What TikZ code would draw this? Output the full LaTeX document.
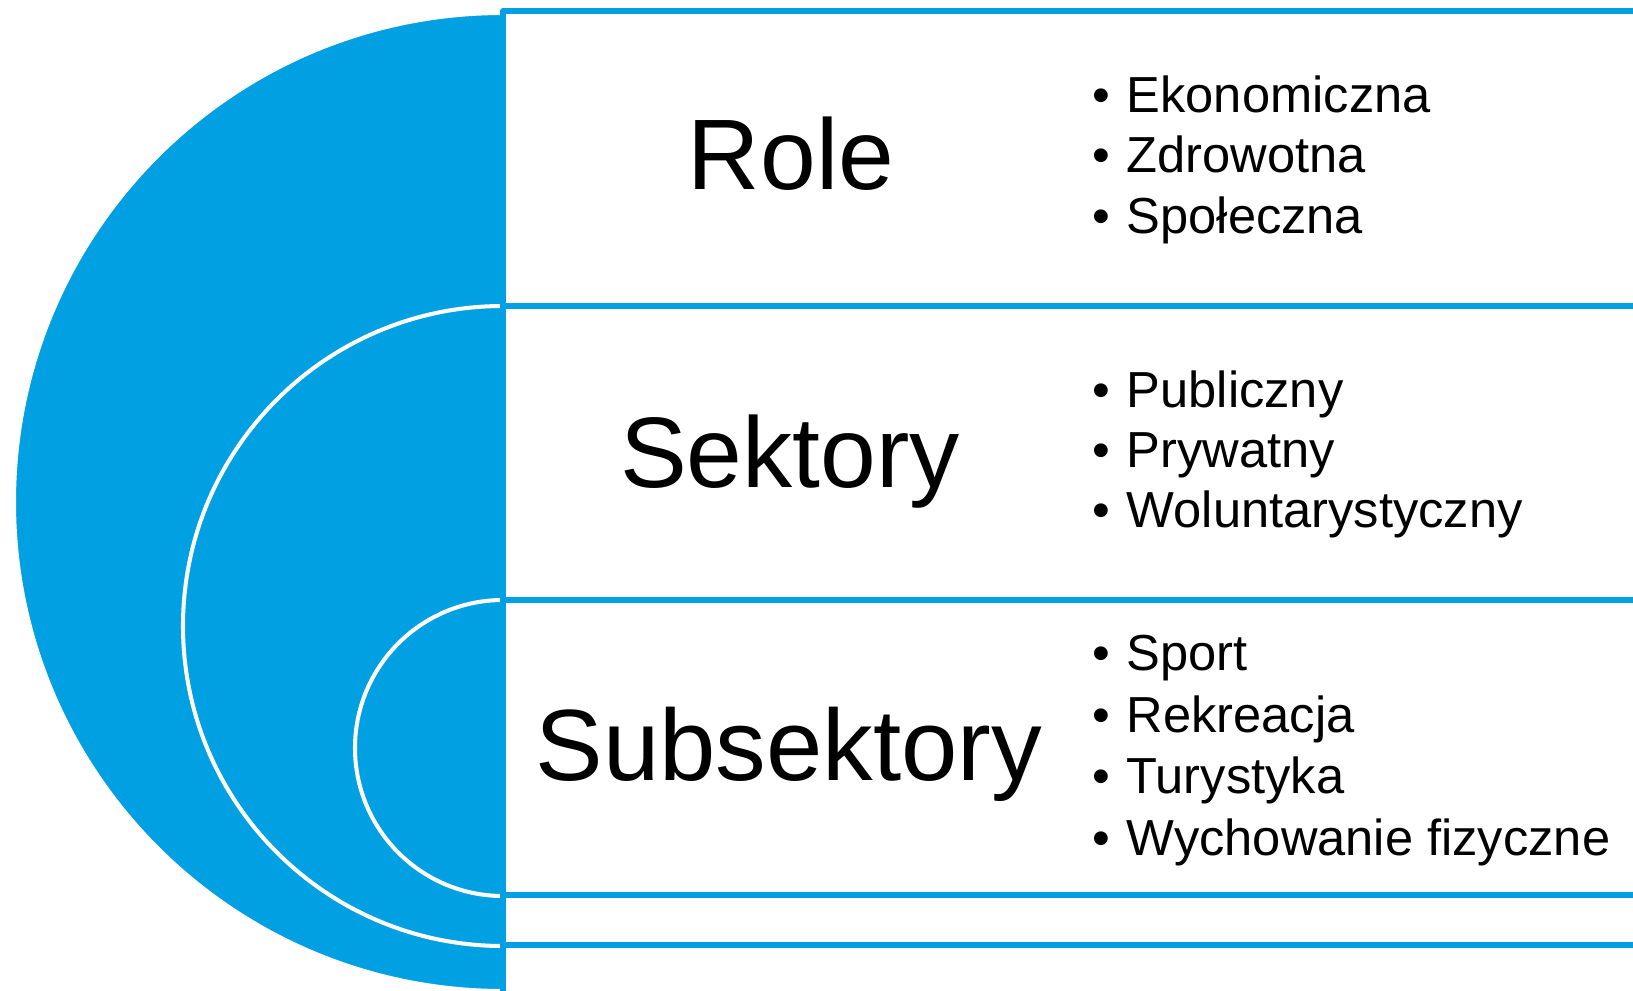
\documentclass[tikz,border=0pt]{standalone}
\usepackage{fontspec}
\setmainfont{Liberation Sans}
\definecolor{segblue}{RGB}{0,160,227}
\newcommand{\pkt}[1]{\makebox[0.34cm][l]{•}#1}

\begin{document}
\begin{tikzpicture}[
                x = 0.01cm, y = -0.01cm, % one unit per pixel
                title/.style = {font=\fontsize{28.5}{34}\selectfont, inner sep=0pt, anchor=base},
                item/.style = {font=\fontsize{14.4}{17}\selectfont, inner sep=0pt, anchor=base west},
                band/.style = {draw=segblue, line width=1.45pt, line join=round},
                ring/.style = {fill=segblue, draw=white, line width=1.15pt}
                ]
                \useasboundingbox (0,0) rectangle (1633,991);

                % nested half circles
                \begin{scope}
                    \clip (0,0) rectangle (503,991);
                    \path[ring] (503,502) circle (489);
                    \path[ring] (503,626) circle (320);
                    \path[ring] (503,748) circle (148);
                \end{scope}

                % bands on the right
                \draw[band] (1633,11) -- (503,11) -- (503,991);
                \draw[band] (503,306) -- (1633,306);
                \draw[band] (503,600) -- (1633,600);
                \draw[band] (503,895) -- (1633,895);
                \draw[band] (503,945) -- (1633,945);

                % titles
                \node[title] (role) at (791,190) {Role};
                \node[title] (sektory) at (790,487) {Sektory};
                \node[title, font=\fontsize{28.8}{34}\selectfont] (subsektory) at (789,780) {Subsektory};

                % lists
                \node[item] (ekon) at (1092,113) {\pkt{Ekonomiczna}};
                \node[item] (zdrow) at (1092,173) {\pkt{Zdrowotna}};
                \node[item] (spol) at (1092,234) {\pkt{Społeczna}};

                \node[item] (publ) at (1092,407) {\pkt{Publiczny}};
                \node[item] (pryw) at (1092,467) {\pkt{Prywatny}};
                \node[item] (wolu) at (1092,527) {\pkt{Woluntarystyczny}};

                \node[item] (sport) at (1092,670) {\pkt{Sport}};
                \node[item] (rekr) at (1092,732) {\pkt{Rekreacja}};
                \node[item] (tury) at (1092,793) {\pkt{Turystyka}};
                \node[item] (wych) at (1092,855) {\pkt{Wychowanie fizyczne}};
            \end{tikzpicture}
\end{document}
